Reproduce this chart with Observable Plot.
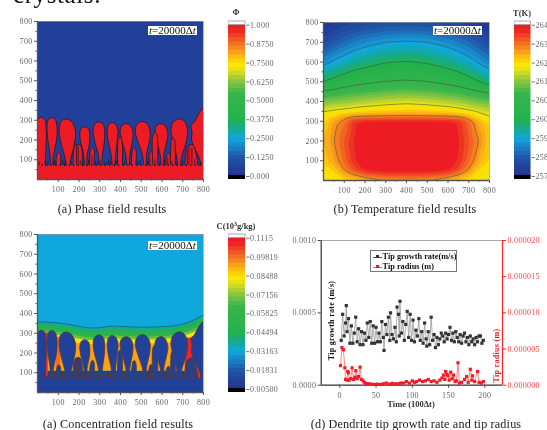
<!DOCTYPE html>
<html><head><meta charset="utf-8">
<script src="https://cdn.jsdelivr.net/npm/d3@7"></script>
<script src="https://cdn.jsdelivr.net/npm/@observablehq/plot@0.6"></script>
<style>
html,body{margin:0;padding:0;background:#fff;overflow:hidden}
#fig{position:relative;width:547px;height:430px;overflow:hidden;font-family:"Liberation Serif",serif;filter:blur(.4px)}
#fig>div{position:absolute}
.cap{font-size:12.2px;color:#222;white-space:nowrap;transform:translate(-50%,-50%);letter-spacing:.15px}
.bar{font-size:8.5px;font-weight:bold;color:#333;white-space:nowrap;transform:translate(-50%,-50%)}
.stamp{background:#fff;font-size:11px;line-height:9px;color:#111;padding:0 1px;white-space:nowrap;height:9px}
.lg{border:1px solid #777;font-weight:bold;font-size:8.3px;color:#111;padding:1px 0 0 2px;line-height:10.2px;white-space:nowrap;box-sizing:border-box}
.lg i{display:inline-block;width:9px;height:0;border-top:1px solid;vertical-align:middle;margin-right:1px;position:relative;font-style:normal}
.lg i b{position:absolute;left:3px;top:-2.5px;width:3px;height:3px}
</style></head><body><div id="fig"></div>
<script>
// ---------- colour map shared by the three fields ----------
const colorStops = [0,.06,.13,.2,.25,.3,.37,.55,.63,.7,.74,.82,.9,.97,1];
const colorRange = ["#21358f","#21409a","#1f5aab","#1b86c9","#10a8dc","#12a8a0","#22b14c","#39b54a","#8dc63f","#e5e01a","#ffe600","#f9a11b","#f15a24","#ed1c24","#ed1c24"];
const color = {type:"linear",domain:colorStops,range:colorRange};
const barLevels = d3.range(0,1,1/36);
const barTicks = [1,.875,.75,.625,.5,.375,.25,.125,0];
const phaseLabels = ["1.000","0.8750","0.7500","0.6250","0.5000","0.3750","0.2500","0.1250","0.000"];
const tempLabels = ["264","263","262","261","260","260","259","258","257"];
const concLabels = ["0.1115","0.09819","0.08488","0.07156","0.05825","0.04494","0.03163","0.01831","0.00500"];

// ---------- field axes ----------
const fieldTicks = [100,200,300,400,500,600,700,800];
const fieldMinor = [50,150,250,350,450,550,650,750];

// ---------- dendrite outlines, (x,y) pairs ----------
const tallDendrites = [
 [0,60,0,300,8,312,20,315,34,305,41,270,42,200,39,120,36,60],
 [62,60,60,130,50,200,46,270,52,303,70,314,86,303,94,265,92,200,80,140,74,100,74,60],
 [142,60,130,120,112,190,104,250,112,292,135,306,160,297,178,268,184,230,176,170,162,110,154,60],
 [226,60,222,130,208,190,204,235,212,260,230,267,246,256,252,225,250,180,240,130,236,60],
 [298,60,292,130,276,190,268,245,274,278,296,292,316,280,324,245,322,190,314,130,308,60],
 [362,60,354,130,341,190,336,245,342,276,360,289,378,278,388,245,386,210,378,140,372,60],
 [432,60,424,130,408,190,398,240,404,270,428,283,448,272,460,240,457,190,446,130,442,60],
 [514,60,504,130,484,190,471,245,480,280,506,294,530,280,543,245,539,190,526,130,524,60],
 [598,60,590,130,574,190,566,240,572,270,596,283,616,271,628,235,623,190,610,130,608,60],
 [676,60,670,120,654,190,643,250,654,290,684,307,708,294,723,255,717,190,696,120,688,60],
 [795,60,775,120,752,170,742,210,745,235,740,275,755,290,770,320,785,345,800,360,806,300,806,60]
];
const smallDendrites = [
 [92,60,90,100,95,130,103,140,110,130,112,100,108,60],
 [172,60,172,110,178,165,190,177,205,175,214,150,216,100,212,60],
 [252,60,252,120,258,155,266,163,273,150,274,110,270,60],
 [386,60,386,150,390,205,398,215,405,205,410,150,408,60],
 [452,60,454,120,460,155,467,162,474,150,476,110,472,60],
 [536,60,536,110,541,135,548,142,555,132,558,100,556,60],
 [556,60,553,160,556,225,566,240,575,228,580,170,578,60],
 [620,60,620,110,625,128,632,133,640,122,642,100,640,60],
 [640,60,642,160,645,200,652,212,660,200,664,150,664,60],
 [712,60,712,110,720,160,735,175,752,172,762,140,770,100,775,60]
];
const rootX = [8,22,38,50,78,84,120,128,134,162,188,196,206,222,246,262,280,290,300,322,334,342,352,376,384,420,444,482,494,530,542,566,590,612,628,648,668,700,722,730,744,758,772,786];
const rootTop = [88,80,100,92,86,96,100,84,92,90,172,168,95,90,100,120,92,84,96,90,84,100,92,88,96,90,92,86,96,92,110,100,88,96,110,92,86,92,150,165,160,100,92,88];

// ---------- temperature field, normalised colour level on a read grid ----------
const gridX = [0,50,100,150,200,300,400,500,600,650,700,750,800];
const gridY = [800,700,600,500,400,350,320,300,200,100,50,0];
const tempRows = [
 [.02,.05,.065,.08,.09,.105,.11,.105,.09,.08,.065,.05,.02],
 [.10,.14,.17,.20,.22,.25,.26,.25,.22,.195,.17,.135,.10],
 [.22,.26,.29,.32,.34,.375,.385,.37,.335,.31,.28,.24,.20],
 [.38,.41,.44,.465,.48,.50,.51,.50,.47,.45,.42,.38,.33],
 [.63,.64,.65,.66,.67,.69,.70,.69,.67,.66,.64,.62,.61],
 [.72,.73,.74,.755,.77,.78,.79,.78,.77,.75,.73,.71,.69],
 [.75,.78,.84,.87,.88,.88,.88,.88,.88,.87,.83,.75,.72],
 [.77,.84,.88,.97,.99,1,1,1,.99,.97,.9,.82,.76],
 [.80,.86,.92,.98,1,1,1,1,1,.98,.92,.86,.78],
 [.79,.83,.90,.97,1,1,1,1,1,.97,.90,.82,.77],
 [.75,.78,.86,.93,.98,1,1,1,.98,.93,.85,.77,.74],
 [.73,.74,.76,.78,.80,.84,.85,.84,.80,.78,.75,.74,.73]
];
const tempLines = [.25,.38,.5,.72,.86];
const tempGrid = gridY.flatMap((y,r)=>gridX.map((x,c)=>({x,y,v:tempRows[r][c]})));

// ---------- concentration layers ----------
const concX = [0,50,100,150,200,250,300,350,400,450,500,550,600,650,700,750,800];
const concTop = [358,356,352,345,335,327,328,335,335,332,330,331,333,337,347,365,392];
const layerLevel = [.29,.33,.40,.47,.60,.72,.82];
const layerDrop = [0,8,20,35,50,64,85];
const hotGaps = [{x1:36,x2:52,y1:80,y2:300,v:.95},{x1:712,x2:752,y1:90,y2:275,v:.96},{x1:752,x2:790,y1:70,y2:170,v:.95},{x1:90,x2:112,y1:110,y2:280,v:.88}];

// ---------- tip growth rate (1e-4 m/s) and tip radius (1e-6 m) ----------
const rateT = [2,4,6,8,9,10,12,14,16,18,20,22,24,26,28,30,32,34,36,38,40,42,44,46,48,50,52,54,56,58,60,61,63,65,67,69,70,72,74,76,78,79,81,82,83,85,87,89,91,93,95,97,99,101,103,105,107,109,111,113,115,117,119,120,122,124,126,128,130,132,134,136,138,140,142,144,146,148,150,152,154,156,158,160,162,164,166,168,170,172,174,176,178,180,182,184,186,188,190,192,194,196,198];
const rateV = [3.1,4.9,3.4,4.3,5.5,3.7,4.6,2.9,4.1,2.9,3.6,4.7,3.0,3.9,2.8,3.7,2.8,3.6,3.1,4.3,3.3,4.4,2.9,4.1,2.9,4.0,3.0,3.6,3.0,4.4,3.3,2.4,4.2,3.5,4.7,3.1,5.0,3.5,3.2,4.0,3.0,5.4,4.9,3.4,5.8,3.6,4.4,3.1,4.2,5.1,3.3,4.9,3.1,4.5,3.0,3.8,3.4,4.6,3.1,3.7,2.9,4.3,3.2,2.7,3.7,2.8,4.7,3.1,3.5,2.6,3.3,2.8,3.2,3.6,3.4,3.0,3.6,3.2,3.5,4.0,3.1,3.6,3.0,3.7,3.3,3.0,3.5,2.9,3.4,3.6,3.0,3.3,2.8,3.4,3.0,3.2,2.8,3.3,3.0,3.4,3.4,2.9,3.1];
const radiusT = [1,3,5,7,8,10,11,12,13,15,17,19,21,22,24,26,28,30,32,34,36,38,40,44,48,52,56,60,64,68,72,76,80,84,88,92,96,100,103,106,110,114,118,122,126,130,134,138,141,143,145,146,148,149,151,153,155,157,159,161,163,165,168,172,175,177,180,182,183,186,190,192,195,198];
const radiusV = [2.7,5.2,4.9,2.4,.8,.7,1.9,1.7,.7,.9,2.4,.8,1.1,2.0,.9,1.2,2.5,.8,.6,.4,.25,.2,.2,.15,.1,.15,.1,.2,.3,.15,.25,.2,.2,.3,.3,.5,.3,.6,.4,.5,.7,.5,.6,.8,.5,.6,.4,.7,1.0,1.4,.8,1.9,1.5,1.3,.7,1.8,.9,1.4,.5,.6,3.1,.3,.4,.8,1.2,.4,2.2,.7,1.3,.5,1.9,.4,.3,.5];
const rateTicks = [0,.0005,.001];
const radiusTicks = [0,.000005,.00001,.000015,.00002];
const timeTicks = [0,50,100,150,200];

// ---------- helpers ----------
const fig = document.getElementById("fig");
function place(node,left,top){const d=document.createElement("div");d.style.left=left+"px";d.style.top=top+"px";d.append(node);fig.append(d);return d;}
function html(cls,left,top,content){const d=document.createElement("div");d.className=cls;d.style.left=left+"px";d.style.top=top+"px";d.innerHTML=content;fig.append(d);return d;}
const svgStyle = {background:"transparent",fontFamily:"Liberation Serif",fontSize:"8px",color:"#666",overflow:"hidden",display:"block",letterSpacing:".3px"};
const outline = (list,id0=0)=>list.flatMap((a,i)=>d3.range(0,a.length,2).map(k=>({id:id0+i,x:a[k],y:a[k+1]})));
const allOutlines = outline(tallDendrites).concat(outline(smallDendrites,100));
const roots = rootX.map((x,i)=>({x,top:rootTop[i]}));
const noLabel = ()=>"";

function fieldPlot(left,top,marks,width){
  const plot = Plot.plot({
    width, height:200, marginLeft:37, marginRight:width-203, marginTop:21, marginBottom:21,
    x:{domain:[0,800]}, y:{domain:[0,800]}, color, style:svgStyle, clip:false,
    marks:[
      ...marks,
      Plot.frame({stroke:"#999",strokeWidth:.7}),
      Plot.ruleX([0],{stroke:"#555",strokeWidth:1.3}),
      Plot.ruleY([0],{stroke:"#555",strokeWidth:1.3}),
      Plot.axisX({ticks:fieldTicks,tickSize:3,tickPadding:4,label:null,stroke:"#555"}),
      Plot.axisX({ticks:fieldMinor,tickSize:1.5,tickFormat:noLabel,label:null,stroke:"#555"}),
      Plot.axisY({ticks:fieldTicks,tickSize:3,tickPadding:2,label:null,stroke:"#555"}),
      Plot.axisY({ticks:fieldMinor,tickSize:1.5,tickFormat:noLabel,label:null,stroke:"#555"})
    ]
  });
  place(plot,left,top);
}
function colorBar(left,top,labels,barW,totalW){
  const plot = Plot.plot({
    width:totalW, height:170, marginLeft:0, marginRight:totalW-barW, marginTop:6, marginBottom:6,
    x:{domain:[0,1],axis:null}, y:{domain:[-.0198,1.0245],axis:null}, color, style:svgStyle,
    marks:[
      Plot.rect(barLevels,{x1:0,x2:1,y1:d=>d,y2:d=>d+1/36+.004,fill:d=>d+.5/36}),
      Plot.rect([0],{x1:0,x2:1,y1:-.0198,y2:.007,fill:"#000"}),
      Plot.rect([0],{x1:0,x2:1,y1:1,y2:1.0245,fill:"#fff",stroke:"#888",strokeWidth:.7}),
      Plot.axisY({anchor:"right",ticks:barTicks,tickSize:3.5,tickPadding:1,label:null,stroke:"#777",tickFormat:d=>labels[barTicks.indexOf(d)]})
    ]
  });
  place(plot,left,top);
}
const dendrites = (fill,stroke)=>[
  Plot.line(allOutlines,{x:"x",y:"y",z:"id",fill,stroke,strokeWidth:.8,curve:"catmull-rom",clip:true}),
  Plot.ruleX(roots,{x:"x",y1:70,y2:"top",stroke,strokeWidth:.8}),
  Plot.rect([0],{x1:0,x2:800,y1:0,y2:70,fill}),
  Plot.ruleY([72],{stroke,strokeWidth:1.2,strokeDasharray:"1.5 3"})
];

// ---------- panel (a) ----------
const liquid="#21409a", solid="#ed1c24";
fieldPlot(0,0,[Plot.rect([0],{x1:0,x2:800,y1:0,y2:800,fill:liquid}),...dendrites(solid,"#1a1a2e")],215);
html("stamp",148,26,'<i>t</i>=20000Δ<i>t</i>');
colorBar(228,15,phaseLabels,17,55);
html("bar",236,12,"Φ");
html("cap",112,209,"(a) Phase field results");

// ---------- panel (b) ----------
const tempBands = d3.range(0,1.02,1/36);
fieldPlot(286,0.6,[
  Plot.rect([0],{x1:0,x2:800,y1:0,y2:800,fill:"#ffd400"}),
  Plot.contour(tempGrid,{x:"x",y:"y",fill:"v",interpolate:"barycentric",blur:2,pixelSize:1,thresholds:tempBands,clip:true}),
  Plot.contour(tempGrid,{x:"x",y:"y",value:"v",stroke:"#3a4a3a",strokeOpacity:.7,strokeWidth:.7,interpolate:"barycentric",blur:2,pixelSize:1,thresholds:tempLines,clip:true})
],215);
html("stamp",433,26,'<i>t</i>=20000Δ<i>t</i>');
colorBar(513.7,15,tempLabels,16.5,33.3);
html("bar",522,13,"T(K)");
html("cap",405,209,"(b) Temperature field results");

// ---------- panel (c) ----------
const concLayers = layerLevel.map((v,i)=>Plot.areaY(concX,{x:d=>d,y1:110,y2:(d,k)=>concTop[k]-layerDrop[i],fill:()=>v,curve:"catmull-rom",clip:true}));
fieldPlot(0,213.4,[
  Plot.rect([0],{x1:0,x2:800,y1:110,y2:800,fill:()=>.25}),
  Plot.rect([0],{x1:0,x2:800,y1:0,y2:110,fill:liquid}),
  ...concLayers,
  Plot.line(concX,{x:d=>d,y:(d,k)=>concTop[k],stroke:"#1b5f85",strokeWidth:.8,curve:"catmull-rom"}),
  Plot.rect(hotGaps,{x1:"x1",x2:"x2",y1:"y1",y2:"y2",fill:"v"}),
  ...dendrites(liquid,"#5a3a2a")
],215);
html("stamp",148,241,'<i>t</i>=20000Δ<i>t</i>');
colorBar(228,228,concLabels,17,55);
html("bar",236,226,"C(10<sup style='font-size:6px'>3</sup>g/kg)");
html("cap",118,424,"(a) Concentration field results");

// ---------- panel (d) ----------
const toRate = r=>r*50; // right axis 0..2e-5 spans the left axis 0..1e-3
const rate = rateT.map((t,i)=>({t,v:rateV[i]*1e-4}));
const radius = radiusT.map((t,i)=>({t,v:toRate(radiusV[i]*1e-6)}));
place(Plot.plot({
  width:267, height:185, marginLeft:40.7, marginRight:45, marginTop:8, marginBottom:32.3,
  x:{domain:[-25.6,224.4]}, y:{domain:[0,.001]}, style:svgStyle,
  marks:[
    Plot.frame({stroke:"#888",strokeWidth:.7}),
    Plot.ruleX([-25.6],{stroke:"#444",strokeWidth:1.2}),
    Plot.ruleY([0],{stroke:"#444",strokeWidth:1.2}),
    Plot.ruleX([224.4],{stroke:"#f22",strokeWidth:1.2}),
    Plot.axisX({ticks:timeTicks,tickSize:3,tickPadding:4,label:null,stroke:"#444",tickFormat:d=>d}),
    Plot.axisY({ticks:rateTicks,tickSize:3,tickPadding:2,label:null,stroke:"#444",tickFormat:d3.format(".4f")}),
    Plot.axisY({anchor:"right",ticks:radiusTicks.map(toRate),tickSize:3,tickPadding:2,label:null,stroke:"#f22",fill:"#f44",tickFormat:d=>d3.format(".6f")(d/50)}),
    Plot.line(rate,{x:"t",y:"v",stroke:"#999",strokeWidth:.8}),
    Plot.dot(rate,{x:"t",y:"v",symbol:"square",r:1.8,fill:"#333"}),
    Plot.line(radius,{x:"t",y:"v",stroke:"#f66",strokeWidth:.8}),
    Plot.dot(radius,{x:"t",y:"v",symbol:"square",r:1.8,fill:"#f01c24"}),
    Plot.text(["Tip growth rate (m/s)"],{x:-11,y:.000447,rotate:-90,fontWeight:"bold",fontSize:8,fill:"#111"}),
    Plot.text(["Tip radius (m)"],{x:216,y:.000205,rotate:-90,fontWeight:"bold",fontSize:8,fill:"#f01c24"})
  ]
}),280,232);
const lg = html("lg",369.5,250,'<i style="color:#555"><b style="background:#333"></b></i>Tip growth rate(m/s)<br><i style="color:#f55"><b style="background:#f01c24"></b></i>Tip radius (m)');
lg.style.width="87px"; lg.style.height="22px";
html("bar",411,404,"Time (100Δt)");
html("cap",416,424,"(d) Dendrite tip growth rate and tip radius");

// ---------- clipped line of the page above the figure ----------
const head = html("",13,-19,"crystals.");
head.style.fontSize="25px"; head.style.color="#111"; head.style.letterSpacing=".6px";
</script></body></html>
